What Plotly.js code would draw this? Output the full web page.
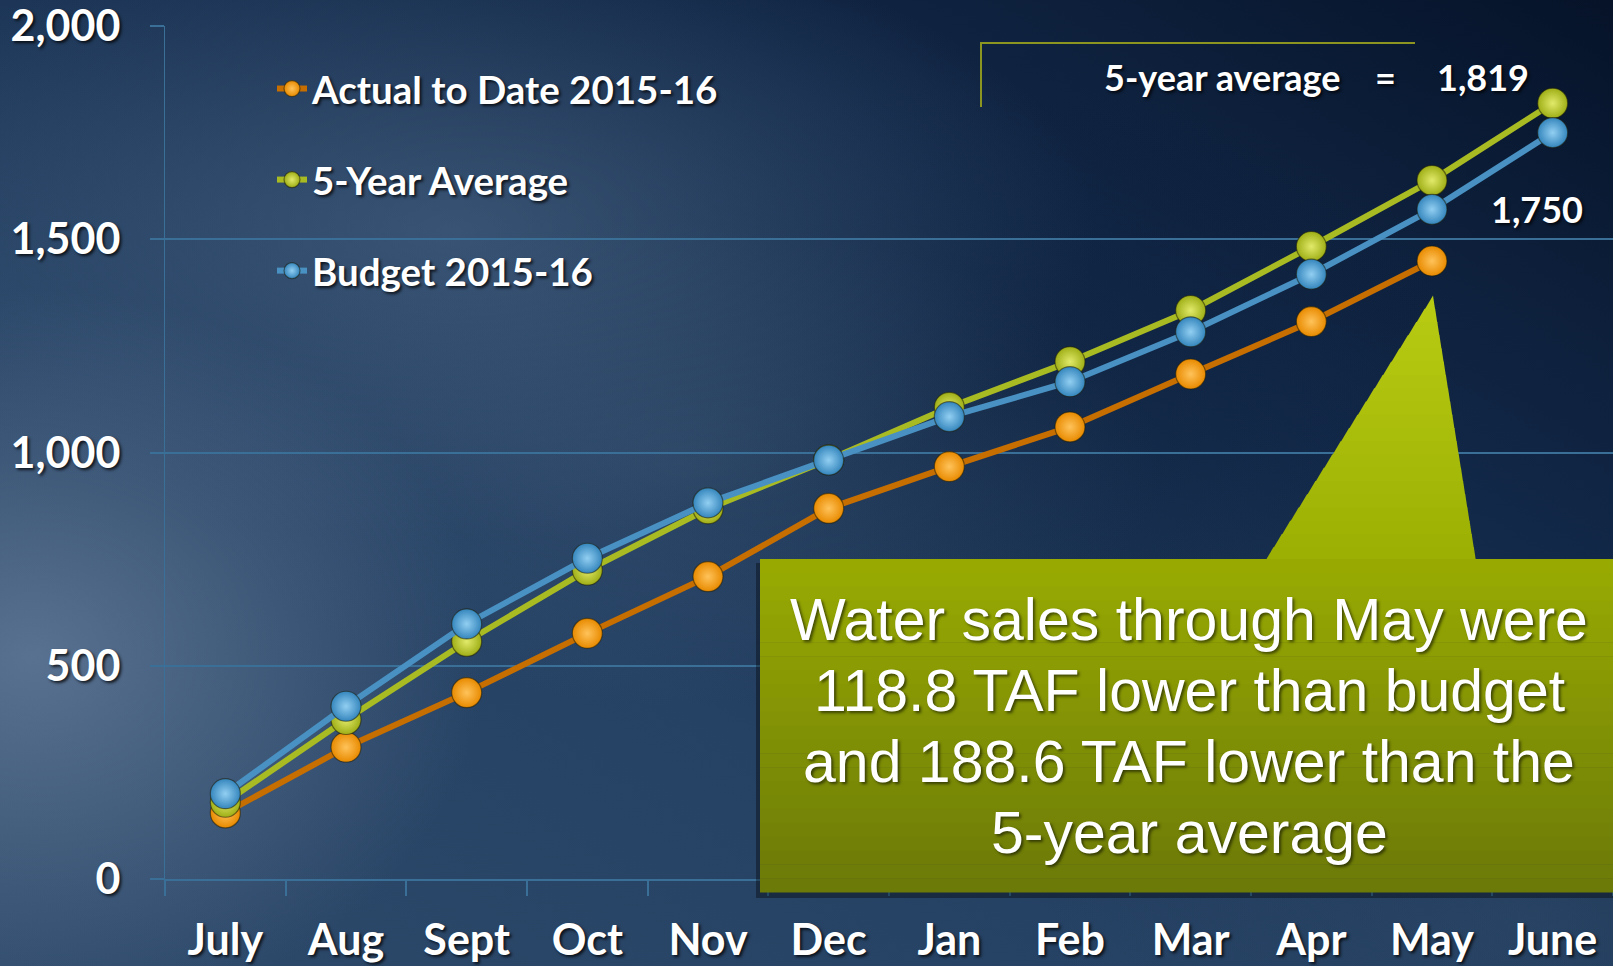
<!DOCTYPE html>
<html>
<head>
<meta charset="utf-8">
<script src="https://cdn.plot.ly/plotly-3.0.1.min.js"></script>
<style>
  html, body { margin: 0; padding: 0; width: 1613px; height: 966px; overflow: hidden; }
  body {
    background:
      radial-gradient(ellipse 28% 38% at 2% 68%, rgba(105,128,158,0.75), rgba(105,128,158,0) 100%),
      radial-gradient(ellipse 40% 32% at 28% 24%, rgba(80,108,140,0.55), rgba(80,108,140,0) 100%),
      radial-gradient(ellipse 30% 25% at 42% 48%, rgba(70,98,130,0.35), rgba(70,98,130,0) 100%),
      radial-gradient(ellipse 30% 30% at 62% 38%, rgba(10,28,55,0.40), rgba(10,28,55,0) 100%),
      radial-gradient(ellipse 30% 25% at 95% 95%, rgba(60,90,120,0.35), rgba(60,90,120,0) 100%),
      linear-gradient(to bottom left, #061329 0%, #122848 30%, #254163 65%, #2e4a6b 100%);
  }
  #chart { width: 1613px; height: 966px; }
</style>
</head>
<body>
<div id="chart"></div>
<script>
// ---- data ----
var months = ["July", "Aug", "Sept", "Oct", "Nov", "Dec", "Jan", "Feb", "Mar", "Apr", "May", "June"];
var actual2015_16 = [155, 309, 437, 576, 709, 869, 967, 1060, 1184, 1307, 1449];
var fiveYearAverage = [180, 374, 557, 724, 868, 983, 1106, 1213, 1333, 1483, 1638, 1819];
var budget2015_16 = [200, 405, 598, 752, 882, 982, 1084, 1166, 1283, 1418, 1570, 1750];
var yTicks = [0, 500, 1000, 1500, 2000];
var seriesNames = ["Actual to Date 2015-16", "5-Year Average", "Budget 2015-16"];
var calloutLines = ["Water sales through May were", "118.8 TAF lower than budget", "and 188.6 TAF lower than the", "5-year average"];

// ---- layout helpers (pixel -> paper) ----
var W = 1613, H = 966;
var L = 165, R = 0, T = 26, B = 87;
var pw = W - L - R, ph = H - T - B;
function px(x) { return (x - L) / pw; }
function py(y) { return (H - B - y) / ph; }
function fmt(v) { return v.toLocaleString("en-US"); }
function mix(a, b, t) { return "rgb(" + a.map(function (v, k) { return Math.round(v + (b[k] - v) * t); }).join(",") + ")"; }

var shadow = "2px 2px 3px rgba(0,0,0,0.75)";
var labelFont = { family: "Lato, 'Open Sans', sans-serif", size: 43, color: "#ffffff", weight: "bold", shadow: shadow };

function mk(name, y, lineColor, markerColor, centerColor, group) {
  return {
    type: "scatter", mode: "lines+markers", name: name,
    x: months.slice(0, y.length), y: y,
    legendgroup: group,
    line: { color: lineColor, width: 6 },
    marker: {
      size: 30, symbol: "circle", color: markerColor,
      gradient: { type: "radial", color: centerColor },
      line: { color: "rgba(30,30,10,0.55)", width: 1.2 }
    },
    hoverinfo: "x+y+name"
  };
}

var traces = [
  mk(seriesNames[0], actual2015_16, "#C66E00", "#E88A00", "#FFC35A", "g1"),
  mk(seriesNames[1], fiveYearAverage, "#A9BB22", "#9EAE16", "#E2EA6A", "g2"),
  mk(seriesNames[2], budget2015_16, "#4891C2", "#3586BD", "#92CFF2", "g3")
];

// ---- callout (box + pointer) ----
var shapes = [];
var boxL = 760, boxR = 1613, boxT = 559, boxB = 892;
var tipX = 1433, tipY = 296, baseL = 1265, baseR = 1476;
// drop shadow
shapes.push({ type: "rect", xref: "paper", yref: "paper", layer: "above",
  x0: px(boxL - 4), x1: px(boxR), y0: py(boxB + 6), y1: py(boxT + 4),
  fillcolor: "rgba(0,0,0,0.35)", line: { width: 0 } });
// pointer as gradient bands
var np = 20, pTop = [184, 203, 18], pBot = [156, 176, 4];
for (var j = 0; j < np; j++) {
  var ya = tipY + (boxT + 2 - tipY) * j / np, yb = tipY + (boxT + 2 - tipY) * (j + 1) / np;
  var fa = (ya - tipY) / (boxT + 2 - tipY), fb = (yb - tipY) / (boxT + 2 - tipY);
  var xla = tipX + (baseL - tipX) * fa, xra = tipX + (baseR - tipX) * fa;
  var xlb = tipX + (baseL - tipX) * fb, xrb = tipX + (baseR - tipX) * fb;
  shapes.push({ type: "path", xref: "paper", yref: "paper", layer: "above",
    path: "M " + px(xla) + " " + py(ya - 0.5) + " L " + px(xra) + " " + py(ya - 0.5) +
          " L " + px(xrb) + " " + py(yb + 0.5) + " L " + px(xlb) + " " + py(yb + 0.5) + " Z",
    fillcolor: mix(pTop, pBot, j / (np - 1)), line: { width: 0 } });
}
// box as gradient bands
var nb = 24, c0 = [152, 170, 2], c1 = [108, 122, 8];
for (var i = 0; i < nb; i++) {
  var y0 = boxT + (boxB - boxT) * i / nb, y1 = boxT + (boxB - boxT) * (i + 1) / nb;
  shapes.push({ type: "rect", xref: "paper", yref: "paper", layer: "above",
    x0: px(boxL), x1: px(boxR), y0: py(y1 + 0.6), y1: py(y0),
    fillcolor: mix(c0, c1, i / (nb - 1)), line: { width: 0 } });
}
// bracket line near 5-year average label
shapes.push({ type: "path", xref: "paper", yref: "paper", layer: "above",
  path: "M " + px(981) + " " + py(107) + " L " + px(981) + " " + py(43) + " L " + px(1415) + " " + py(43),
  line: { color: "#8C9520", width: 2 } });

var annFont = { family: "Lato, 'Open Sans', sans-serif", size: 36, color: "#ffffff", weight: "bold", shadow: shadow };
var calloutFont = { family: "'Liberation Sans', Arial, sans-serif", size: 59, color: "#ffffff", shadow: "2px 2px 3px rgba(0,0,0,0.55)" };
var last = months.length - 1;
var annotations = [
  { xref: "paper", yref: "paper", x: px(1343), y: py(77), xanchor: "right", yanchor: "middle",
    text: "5-year average", showarrow: false, font: annFont },
  { xref: "paper", yref: "paper", x: px(1385), y: py(77), xanchor: "center", yanchor: "middle",
    text: "=", showarrow: false, font: annFont },
  { xref: "x", yref: "y", x: months[last], y: fiveYearAverage[last], xanchor: "left", yanchor: "middle",
    xshift: -118, yshift: 26, text: fmt(fiveYearAverage[last]), showarrow: false, font: annFont },
  { xref: "x", yref: "y", x: months[last], y: budget2015_16[last], xanchor: "center", yanchor: "middle",
    xshift: -16, yshift: -76, text: fmt(budget2015_16[last]), showarrow: false, font: annFont }
];
calloutLines.forEach(function (line, k) {
  annotations.push({ xref: "paper", yref: "paper", x: px(1189), y: py(620 + 71 * k),
    xanchor: "center", yanchor: "middle", text: line, showarrow: false, font: calloutFont });
});

var gridColor = "#3A7098";
var layout = {
  width: W, height: H,
  margin: { l: L, r: R, t: T, b: B, pad: 0, autoexpand: false },
  paper_bgcolor: "rgba(0,0,0,0)",
  plot_bgcolor: "rgba(0,0,0,0)",
  font: { family: "Lato, sans-serif", color: "#ffffff" },
  showlegend: true,
  legend: {
    xref: "paper", yref: "paper",
    x: px(272), y: py(57), xanchor: "left", yanchor: "top",
    bgcolor: "rgba(0,0,0,0)", borderwidth: 0,
    font: { family: "Lato, 'Open Sans', sans-serif", size: 38.5, color: "#ffffff", weight: "bold", shadow: shadow },
    tracegroupgap: 38, traceorder: "grouped", itemsizing: "trace"
  },
  xaxis: {
    type: "category", categoryorder: "array", categoryarray: months,
    range: [-0.5, months.length - 0.5],
    automargin: false, tickangle: 0, ticklabeloverflow: "allow",
    showgrid: false, zeroline: false,
    showline: true, linecolor: gridColor, linewidth: 2,
    ticks: "outside", tickson: "boundaries", ticklen: 15, tickcolor: gridColor, tickwidth: 2,
    tickfont: labelFont, ticklabelstandoff: 22,
    fixedrange: true
  },
  yaxis: {
    range: [0, 2000], tickvals: yTicks, ticktext: yTicks.map(fmt),
    automargin: false, ticklabeloverflow: "allow",
    showgrid: true, gridcolor: gridColor, gridwidth: 2,
    zeroline: false,
    showline: true, linecolor: gridColor, linewidth: 1,
    ticks: "outside", ticklen: 14, tickcolor: gridColor, tickwidth: 2,
    tickfont: labelFont, ticklabelstandoff: 21,
    fixedrange: true
  },
  shapes: shapes,
  annotations: annotations,
  hovermode: "closest"
};

Plotly.newPlot("chart", traces, layout, { displayModeBar: false, staticPlot: false, responsive: false });
</script>
</body>
</html>
